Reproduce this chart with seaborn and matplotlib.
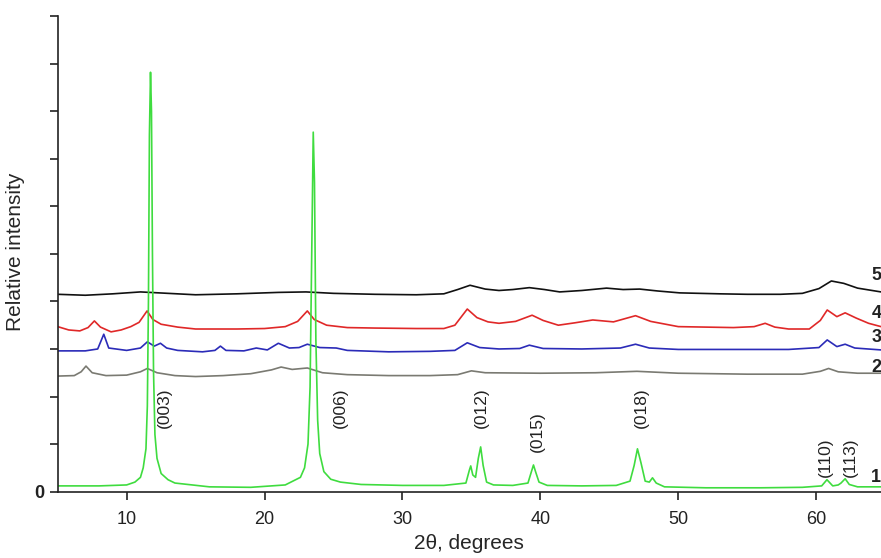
import matplotlib
matplotlib.use("Agg")
import matplotlib.pyplot as plt
import seaborn as sns
import pandas as pd

# ---- data ----
x1 = [5, 8, 10, 10.6, 11.0, 11.2, 11.4, 11.5, 11.58, 11.65, 11.73, 11.8, 11.87, 11.95, 12.05,
      12.2, 12.5, 13.0, 13.5, 16, 19, 21.5, 22.6, 22.9, 23.15, 23.3, 23.42, 23.53, 23.62, 23.72,
      23.85, 24.0, 24.3, 24.8, 25.5, 27, 30, 33, 34.6, 34.85, 34.95, 35.1, 35.3, 35.5, 35.67,
      35.85, 36.1, 36.6, 38, 39.1, 39.35, 39.5, 39.65, 39.9, 40.5, 43, 45.5, 46.5, 46.8, 47.04,
      47.3, 47.6, 47.9, 48.13, 48.4, 49, 52, 56, 59, 60.4, 60.78, 61.2, 61.6, 61.8, 62.1, 62.4,
      63, 64.7]
y1 = [0.12, 0.12, 0.14, 0.20, 0.30, 0.50, 0.90, 1.8, 4.0, 7.5, 8.82, 8.0, 5.0, 2.5, 1.2,
      0.70, 0.38, 0.25, 0.18, 0.10, 0.09, 0.14, 0.30, 0.50, 1.0, 2.2, 5.0, 7.56, 6.5, 3.2,
      1.5, 0.80, 0.42, 0.26, 0.20, 0.15, 0.13, 0.13, 0.18, 0.45, 0.54, 0.35, 0.30, 0.70, 0.94,
      0.55, 0.20, 0.14, 0.13, 0.18, 0.42, 0.56, 0.42, 0.20, 0.13, 0.12, 0.13, 0.22, 0.55, 0.90,
      0.60, 0.22, 0.20, 0.29, 0.18, 0.10, 0.08, 0.08, 0.09, 0.12, 0.25, 0.12, 0.14, 0.18, 0.27, 0.15,
      0.10, 0.10]

x2 = [5, 6.2, 6.7, 7.05, 7.5, 8.5, 10, 11, 11.5, 12.2, 13.5, 15, 17, 19, 20.5, 21.2, 22, 23.1,
      24.2, 26, 29, 32, 34, 35, 36, 40, 44, 47, 50, 55, 59, 60.3, 60.9, 61.6, 63, 64.7]
y2 = [2.43, 2.44, 2.52, 2.64, 2.50, 2.44, 2.45, 2.52, 2.59, 2.50, 2.44, 2.42, 2.44, 2.48, 2.56,
      2.62, 2.57, 2.60, 2.50, 2.46, 2.44, 2.44, 2.46, 2.54, 2.50, 2.49, 2.50, 2.53, 2.49, 2.47,
      2.47, 2.53, 2.59, 2.52, 2.49, 2.49]

x3 = [5, 7, 7.9, 8.34, 8.7, 10, 11, 11.5, 12.0, 12.45, 12.9, 13.7, 15.5, 16.4, 16.8, 17.2, 18.5,
      19.4, 20.2, 21.0, 21.8, 22.5, 23.1, 24.0, 25.2, 26, 29, 32, 33.8, 34.7, 35.6, 37, 38.5, 39.2,
      40.2, 43, 45.8, 46.9, 47.9, 50, 54, 58, 60.2, 60.8, 61.5, 62.1, 62.8, 64.7]
y3 = [2.96, 2.96, 3.00, 3.31, 3.02, 2.97, 3.02, 3.15, 3.06, 3.12, 3.02, 2.97, 2.94, 2.97, 3.06,
      2.97, 2.96, 3.02, 2.98, 3.12, 3.02, 3.03, 3.10, 3.03, 3.02, 2.97, 2.94, 2.95, 2.97, 3.13,
      3.03, 3.00, 3.01, 3.08, 3.01, 3.00, 3.02, 3.10, 3.02, 2.99, 2.99, 2.99, 3.03, 3.19, 3.05,
      3.10, 3.02, 2.98]

x4 = [5, 5.8, 6.6, 7.2, 7.66, 8.1, 8.87, 9.6, 10.3, 10.9, 11.48, 11.9, 12.5, 13.7, 15, 18, 20,
      21.5, 22.4, 23.1, 23.6, 24.5, 26, 28, 31, 33, 33.8, 34.7, 35.4, 36.2, 37, 38.2, 39.4, 40.2,
      41.3, 42.5, 43.8, 45.3, 46.9, 48, 50, 52, 54, 55.5, 56.3, 57, 58, 59.5, 60.3, 60.8, 61.5,
      62.1, 62.9, 63.8, 64.7]
y4 = [3.47, 3.40, 3.38, 3.45, 3.59, 3.46, 3.36, 3.40, 3.47, 3.56, 3.80, 3.62, 3.52, 3.46, 3.42,
      3.42, 3.43, 3.47, 3.58, 3.80, 3.62, 3.50, 3.45, 3.44, 3.43, 3.43, 3.50, 3.84, 3.66, 3.57,
      3.54, 3.58, 3.71, 3.60, 3.50, 3.55, 3.61, 3.57, 3.70, 3.58, 3.47, 3.46, 3.45, 3.47, 3.54,
      3.46, 3.42, 3.42, 3.60, 3.82, 3.68, 3.76, 3.65, 3.54, 3.47]

x5 = [5, 7, 9, 11, 13, 15, 18, 21, 23, 25, 28, 31, 33, 34, 34.9, 36, 37, 38, 39.2, 40.3, 41.4,
      43, 44.8, 46, 47.2, 48.5, 50.1, 53, 55, 57.4, 59, 60.2, 61.1, 62, 63, 64.7]
y5 = [4.15, 4.13, 4.16, 4.20, 4.17, 4.14, 4.16, 4.19, 4.20, 4.17, 4.15, 4.14, 4.16, 4.25, 4.34,
      4.26, 4.23, 4.25, 4.29, 4.25, 4.20, 4.23, 4.28, 4.25, 4.26, 4.22, 4.18, 4.16, 4.15, 4.15,
      4.17, 4.27, 4.43, 4.38, 4.28, 4.20]

samples = ["5", "4", "3", "2", "1"]
colors = ["#111111", "#e02828", "#2b2bb8", "#7a7a72", "#3fdc3f"]

hkl_labels = ["(003)", "(006)", "(012)", "(015)", "(018)", "(110)", "(113)"]
hkl_x = [12.75, 25.5, 35.7, 39.8, 47.3, 60.7, 62.5]
hkl_y = [1.76, 1.76, 1.76, 1.27, 1.76, 0.73, 0.73]

curve_label_x = 64.0
curve_label_y = [4.55, 3.75, 3.25, 2.60, 0.29]

# ---- build long table ----
series = {"5": (x5, y5), "4": (x4, y4), "3": (x3, y3), "2": (x2, y2), "1": (x1, y1)}
frames = []
for s in samples:
    xs, ys = series[s]
    frames.append(pd.DataFrame({"two_theta": xs, "intensity": ys, "sample": s}))
df = pd.concat(frames, ignore_index=True)

sns.set_style("ticks")
plt.rcParams["font.family"] = ["Liberation Sans", "DejaVu Sans"]

fig = plt.figure(figsize=(8.81, 5.58), dpi=100)
ax = fig.add_axes([0.0655, 0.119, 0.9345, 0.852])

sns.lineplot(data=df, x="two_theta", y="intensity", hue="sample", hue_order=samples,
             palette=dict(zip(samples, colors)), estimator=None, sort=False,
             legend=False, linewidth=1.2, ax=ax)

ax.set_xlim(5, 64.7)
ax.set_ylim(0, 10)
ax.set_xticks([10, 20, 30, 40, 50, 60])
ax.set_yticks(range(0, 11))
ax.set_yticklabels(["0"] + [""] * 10, fontweight="bold")
ax.tick_params(axis="both", direction="out", length=6, width=1.2, labelsize=13, colors="#222222")
ax.tick_params(axis="x", pad=8)
for sp in ["top", "right"]:
    ax.spines[sp].set_visible(False)
for sp in ["left", "bottom"]:
    ax.spines[sp].set_linewidth(1.2)
    ax.spines[sp].set_color("#222222")

ax.set_xlabel("2θ, degrees", fontsize=15, labelpad=4)
ax.set_ylabel("Relative intensity", fontsize=15)
ax.yaxis.set_label_coords(-0.040, 0.505)

for lab, xx, yy in zip(hkl_labels, hkl_x, hkl_y):
    ax.text(xx, yy, lab, rotation=90, ha="center", va="center", fontsize=12.5, color="#222222")

for s, yy in zip(samples, curve_label_y):
    ax.text(curve_label_x, yy, s, ha="left", va="center", fontsize=13, fontweight="bold",
            color="#222222", clip_on=False)

fig.savefig("out.png", dpi=100)
